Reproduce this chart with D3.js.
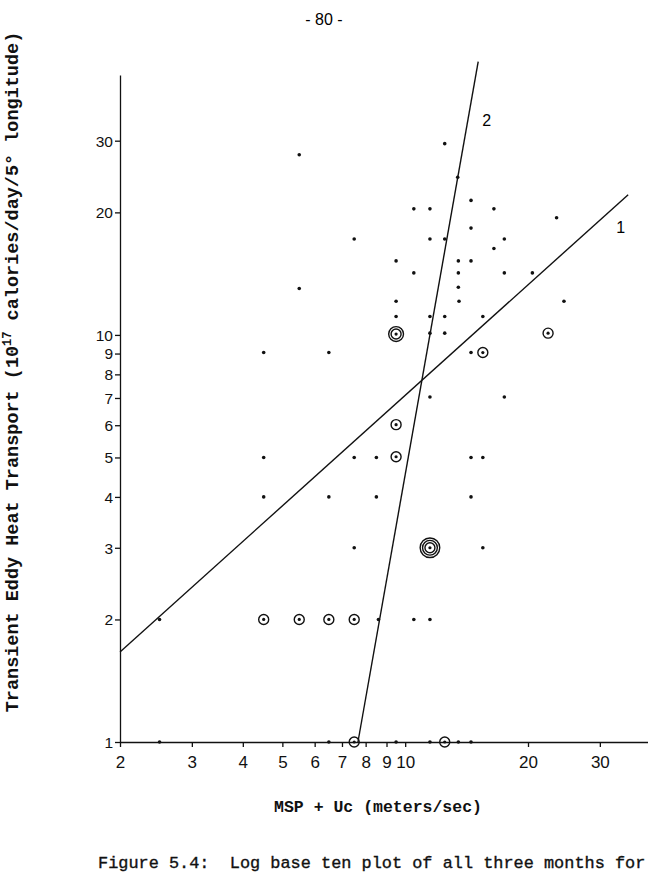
<!DOCTYPE html>
<html>
<head>
<meta charset="utf-8">
<script src="https://cdn.jsdelivr.net/npm/d3@7/dist/d3.min.js"></script>
<style>
  html, body { margin: 0; padding: 0; background: #fff; }
  svg { display: block; }
</style>
</head>
<body>
<div id="chart"></div>
<script>
// ---- data ----
const xTicks = [2, 3, 4, 5, 6, 7, 8, 9, 10, 20, 30];
const yTicks = [1, 2, 3, 4, 5, 6, 7, 8, 9, 10, 20, 30];

// single observations (small dots)
const dotX = [12.5, 13.45, 14.5, 10.5, 11.5, 16.5, 23.5, 14.5, 7.5, 11.5, 12.5, 17.5, 16.5,
              9.5, 13.5, 14.5, 10.5, 13.5, 17.5, 20.5, 13.5, 9.5, 13.55, 9.5, 11.5, 12.5, 15.5,
              11.5, 12.5, 5.5, 5.5, 24.5, 4.5, 6.5, 14.5, 11.5, 17.5, 7.5, 8.5, 14.5, 15.5, 4.5,
              4.5, 6.5, 8.5, 14.5, 7.5, 15.5, 2.5, 8.6, 10.5, 11.5,
              2.5, 6.5, 9.5, 11.5, 13.5, 14.5];
const dotY = [29.5, 24.4, 21.4, 20.4, 20.4, 20.4, 19.4, 18.3, 17.2, 17.2, 17.2, 17.2, 16.3,
              15.2, 15.2, 15.2, 14.2, 14.2, 14.2, 14.2, 13.1, 12.1, 12.1, 11.1, 11.1, 11.1, 11.1,
              10.1, 10.1, 27.7, 13.0, 12.1, 9.05, 9.05, 9.05, 7.04, 7.04, 5, 5, 5, 5, 5,
              4, 4, 4, 4, 3, 3, 2, 2, 2, 2,
              1, 1, 1, 1, 1, 1];

// repeated observations (circled dots; rings = number of extra points)
const ringX = [9.5, 22.4, 15.5, 9.5, 9.5, 11.5, 4.5, 5.5, 6.5, 7.5, 7.5, 12.5];
const ringY = [10.05, 10.1, 9.05, 6.02, 5.02, 3.0, 2, 2, 2, 2, 1, 1];
const ringN = [2, 1, 1, 1, 1, 3, 1, 1, 1, 1, 1, 1];

// fitted lines (end points)
const line1X = [2, 35.2];
const line1Y = [1.664, 22.1];
const line2X = [7.66, 15.1];
const line2Y = [1, 46.9];
const lineLabels = ["1", "2"];

// ---- drawing ----
const W = 648, H = 881;
const svg = d3.select("#chart").append("svg")
  .attr("width", W).attr("height", H)
  .attr("viewBox", `0 0 ${W} ${H}`);

const x = d3.scaleLog().domain([2, 41]).range([120, 120 + 408 * Math.log10(20.5)]);
const y = d3.scaleLog().domain([1, 43.5]).range([742, 75]);

const mono = "'Liberation Mono', 'DejaVu Sans Mono', monospace";
const sans = "'Liberation Sans', 'DejaVu Sans', sans-serif";

// page number
svg.append("text").attr("x", 324).attr("y", 25)
  .attr("text-anchor", "middle").attr("font-family", sans).attr("font-size", 16)
  .text("- 80 -");

// axes
const yAxis = d3.axisLeft(y).tickValues(yTicks).tickSize(5).tickSizeOuter(0)
  .tickFormat(d3.format("d"));
const gy = svg.append("g").attr("transform", `translate(${x(2)},0)`).call(yAxis);
const xAxis = d3.axisBottom(x).tickValues(xTicks).tickSize(5).tickSizeOuter(0)
  .tickFormat(d3.format("d"));
const gx = svg.append("g").attr("transform", `translate(0,${y(1)})`).call(xAxis);

[gx, gy].forEach(g => {
  g.selectAll("path, line").attr("stroke", "#111").attr("stroke-width", 1.3);
  g.selectAll("text").attr("font-family", sans).attr("fill", "#111");
});
gy.selectAll("text").attr("x", -7).attr("dy", "0.35em").attr("font-size", 15.5);
gx.selectAll("text").attr("y", 14).attr("font-size", 17);

// fitted lines
const lineGen = d3.line().x(d => x(d[0])).y(d => y(d[1]));
svg.append("path").datum(d3.zip(line1X, line1Y)).attr("d", lineGen)
  .attr("fill", "none").attr("stroke", "#111").attr("stroke-width", 1.4);
svg.append("path").datum(d3.zip(line2X, line2Y)).attr("d", lineGen)
  .attr("fill", "none").attr("stroke", "#111").attr("stroke-width", 1.4);

svg.append("text").attr("x", x(line1X[1]) - 12).attr("y", y(line1Y[1]) + 38)
  .attr("font-family", sans).attr("font-size", 16).text(lineLabels[0]);
svg.append("text").attr("x", x(line2X[1]) + 4).attr("y", y(line2Y[1]) + 64)
  .attr("font-family", sans).attr("font-size", 16).text(lineLabels[1]);

// dots
svg.append("g").selectAll("circle").data(d3.zip(dotX, dotY)).join("circle")
  .attr("cx", d => x(d[0])).attr("cy", d => y(d[1])).attr("r", 1.8).attr("fill", "#111");

// circled points
const rg = svg.append("g");
d3.zip(ringX, ringY, ringN).forEach(([vx, vy, n]) => {
  rg.append("circle").attr("cx", x(vx)).attr("cy", y(vy)).attr("r", 1.6).attr("fill", "#111");
  for (let k = 0; k < n; k++) {
    rg.append("circle").attr("cx", x(vx)).attr("cy", y(vy))
      .attr("r", 5 + k * 2.4).attr("fill", "none").attr("stroke", "#111").attr("stroke-width", 1.4);
  }
});

// axis titles
const yt = svg.append("text")
  .attr("transform", "translate(18,372) rotate(-90)")
  .attr("text-anchor", "middle").attr("font-family", mono).attr("font-weight", "bold")
  .attr("font-size", 18.5).attr("fill", "#111");
yt.append("tspan").text("Transient Eddy Heat Transport (10");
yt.append("tspan").attr("dy", -7).attr("font-size", 12).text("17");
yt.append("tspan").attr("dy", 7).text(" calories/day/5° longitude)");

svg.append("text").attr("x", 378).attr("y", 812)
  .attr("text-anchor", "middle").attr("font-family", mono).attr("font-weight", "bold")
  .attr("font-size", 16.5).attr("fill", "#111")
  .text("MSP + Uc (meters/sec)");

svg.append("text").attr("x", 98).attr("y", 868)
  .attr("font-family", mono).attr("font-size", 16.9).attr("fill", "#111")
  .attr("stroke", "#111").attr("stroke-width", 0.35)
  .attr("xml:space", "preserve")
  .text("Figure 5.4:  Log base ten plot of all three months for");
</script>
</body>
</html>
